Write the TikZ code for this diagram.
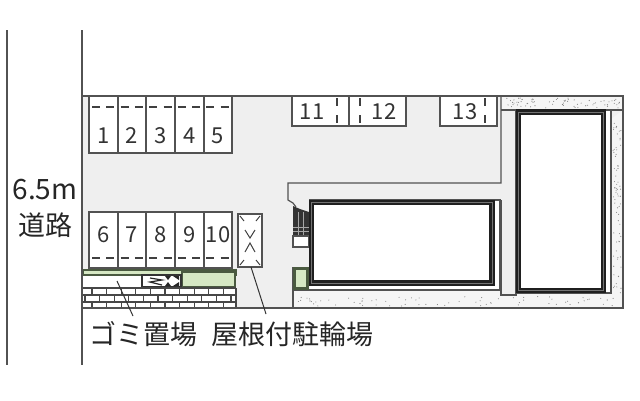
\documentclass[tikz,border=0pt]{standalone}
\usepackage{fontspec}
\setmainfont{Noto Sans CJK JP}
\usetikzlibrary{positioning}
\definecolor{yard}{HTML}{EFEFEF}
\definecolor{stipple}{HTML}{F5F5F5}
\definecolor{lawn}{HTML}{D6E8C4}
\definecolor{hedge}{HTML}{4A5A40}
\tikzset{
  lotline/.style={draw=black!68,line width=1.2pt},
  lotnum/.style={font=\fontsize{22}{22}\selectfont,text=black!80,inner sep=0pt},
  caption/.style={font=\fontsize{27}{27}\selectfont,text=black!85,inner sep=0pt},
  lotdash/.style={draw=black!75,line width=2.4pt,dash pattern=on 8pt off 6.3pt},
  sidedash/.style={draw=black!75,line width=2.4pt,dash pattern=on 8pt off 9pt},
  brickline/.style={draw=black!72,line width=1.1pt},
  hedgebox/.style={draw=hedge,line width=1.6pt,fill=lawn},
  bandline/.style={draw=black!88,line width=5.5pt},
  bandmid/.style={draw=black!55,line width=0.6pt},
  leader/.style={draw=black!80,line width=1pt},
}
\begin{document}
\begin{tikzpicture}[x=1pt,y=-1pt]
\useasboundingbox (0,0) rectangle (640,400);
\fill[white] (0,0) rectangle (640,400);
% road
\draw[lotline] (7,30) -- (7,365);
\draw[lotline] (82,30) -- (82,365);
\node[caption,font=\fontsize{28}{28}\selectfont] (roadwidth) at (45,190) {6.5m};
\node[caption] (roadname) at (45,225) {道路};
% site
\fill[yard] (82,96) rectangle (623,308);
% stipple strip
\fill[stipple] (501,96) rectangle (623,110);
\fill[stipple] (611,110) rectangle (623,308);
\fill[stipple] (293,290) rectangle (623,308);
\pgfmathsetseed{42}
\foreach \i in {1,...,70} {
  \pgfmathsetmacro{\px}{504+116*rnd}
  \pgfmathsetmacro{\py}{98+10*rnd}
  \fill[black!50] (\px,\py) circle (0.55pt);
  \pgfmathsetmacro{\qx}{613+8*rnd}
  \pgfmathsetmacro{\qy}{112+182*rnd}
  \fill[black!50] (\qx,\qy) circle (0.55pt);
  \pgfmathsetmacro{\rx}{296+322*rnd}
  \pgfmathsetmacro{\ry}{296+10*rnd}
  \fill[black!50] (\rx,\ry) circle (0.55pt);
}
% lots 1 to 5
\foreach \n/\xa/\xb in {1/89/118,2/118/146,3/146/175,4/175/204,5/204/232} {
  \draw[lotline,fill=white] (\xa,96) rectangle (\xb,153);
  \node[lotnum] (lot\n) at ({(\xa+\xb)/2},136) {\n};
}
\draw[lotdash] (92,107) -- (231,107);
% lots 6 to 10
\foreach \n/\xa/\xb in {6/89/118,7/118/146,8/146/175,9/175/204,10/204/232} {
  \draw[lotline,fill=white] (\xa,212) rectangle (\xb,268);
  \node[lotnum] (lot\n) at ({(\xa+\xb)/2},235) {\n};
}
\draw[lotdash] (92,258) -- (231,258);
% lots 11 to 13
\draw[lotline,fill=white] (292,96) rectangle (349,126);
\draw[lotline,fill=white] (349,96) rectangle (406,126);
\draw[lotline,fill=white] (440,96) rectangle (497,126);
\node[lotnum] (lot11) at (312,112) {11};
\node[lotnum] (lot12) at (384,112) {12};
\node[lotnum] (lot13) at (465,112) {13};
\foreach \x in {337,360,485} {
  \draw[sidedash] (\x,98) -- (\x,123);
}
% bicycle shed
\draw[lotline,fill=white] (238,214) rectangle (262,267);
\draw[black!75,line width=1pt] (240,216) -- (244,221) (260,216) -- (256,221);
\draw[black!75,line width=1pt] (240,265) -- (244,260) (260,265) -- (256,260);
\draw[black!75,line width=1pt] (245,230) -- (250,238) -- (255,230);
\draw[black!75,line width=1pt] (245,252) -- (250,243) -- (255,252);
% garbage and hedge
\fill[white] (82,269) rectangle (236,288);
\draw[hedgebox] (83,270) rectangle (236,275);
\draw[hedgebox] (182,272) rectangle (235,287);
\draw[black!80,line width=1.2pt,fill=white] (142,275) rectangle (181,287);
\draw[black!85,line width=1.2pt] (150,278) -- (162,280) -- (150,282) -- (162,285);
\fill[black!85] (165,276) -- (171,276) -- (168,280) -- cycle;
\fill[black!85] (173,276) -- (179,276) -- (179,280) -- cycle;
\fill[black!85] (165,286) -- (171,286) -- (168,282) -- cycle;
\fill[black!85] (173,286) -- (179,286) -- (179,282) -- cycle;
% bricks
\fill[white] (82,288) rectangle (236,308);
\draw[brickline] (82,288) -- (236,288) (82,295) -- (236,295) (82,302) -- (236,302) (236,288) -- (236,308);
\foreach \k in {0,...,9} {
  \pgfmathsetmacro{\bx}{92+14.6*\k}
  \draw[brickline] (\bx,288) -- (\bx,295) (\bx,302) -- (\bx,308);
}
\foreach \k in {0,...,10} {
  \pgfmathsetmacro{\bx}{85+14.6*\k}
  \draw[brickline] (\bx,295) -- (\bx,302);
}
% upper wall line
\draw[lotline] (501,96) -- (501,183) -- (288,183) -- (288,200) -- (293,203) -- (296,207);
% walkway
\draw[lotline,fill=yard] (501,200) -- (501,295) -- (516,295) -- (516,110) -- (501,110) -- (623,110);
\fill[white] (309,200) rectangle (500,290);
\draw[lotline] (309,200) -- (500,200) -- (500,290) -- (293,290);
\draw[lotline] (293,267) -- (293,308);
% stairs
\fill[black!80] (293,206) -- (300,209) -- (309,212) -- (309,236) -- (293,236) -- cycle;
\foreach \x in {298,303} {
  \draw[black!35,line width=0.6pt] (\x,212) -- (\x,236);
}
\foreach \y in {227,231} {
  \draw[black!35,line width=0.6pt] (293,\y) -- (309,\y);
}
\draw[lotline,fill=white] (293,236) rectangle (309,247);
% small green
\draw[hedgebox,line width=2.5pt] (294.5,268.5) rectangle (307.5,288.5);
% building west
\draw[bandline,fill=white] (311.5,202.5) rectangle (492,283);
\draw[bandmid] (311.5,202.5) rectangle (492,283);
% building east
\draw[lotline,fill=white] (516,110) rectangle (611,293);
\draw[bandline,fill=white] (518.5,112) rectangle (603.5,290.5);
\draw[bandmid] (518.5,112) rectangle (603.5,290.5);
% site outline
\draw[lotline] (82,308) -- (82,96) -- (623,96) -- (623,308) -- cycle;
% captions
\node[caption] (gomi) at (143,334) {ゴミ置場};
\node[caption] (shed) at (292.5,334) {屋根付駐輪場};
\coordinate (gomitip) at (117,281);
\coordinate (gomiend) at (133,316);
\coordinate (shedtip) at (251,267);
\coordinate (shedend) at (266,314);
\draw[leader] (gomitip) -- (gomiend);
\draw[leader] (shedtip) -- (shedend);
\end{tikzpicture}
\end{document}
